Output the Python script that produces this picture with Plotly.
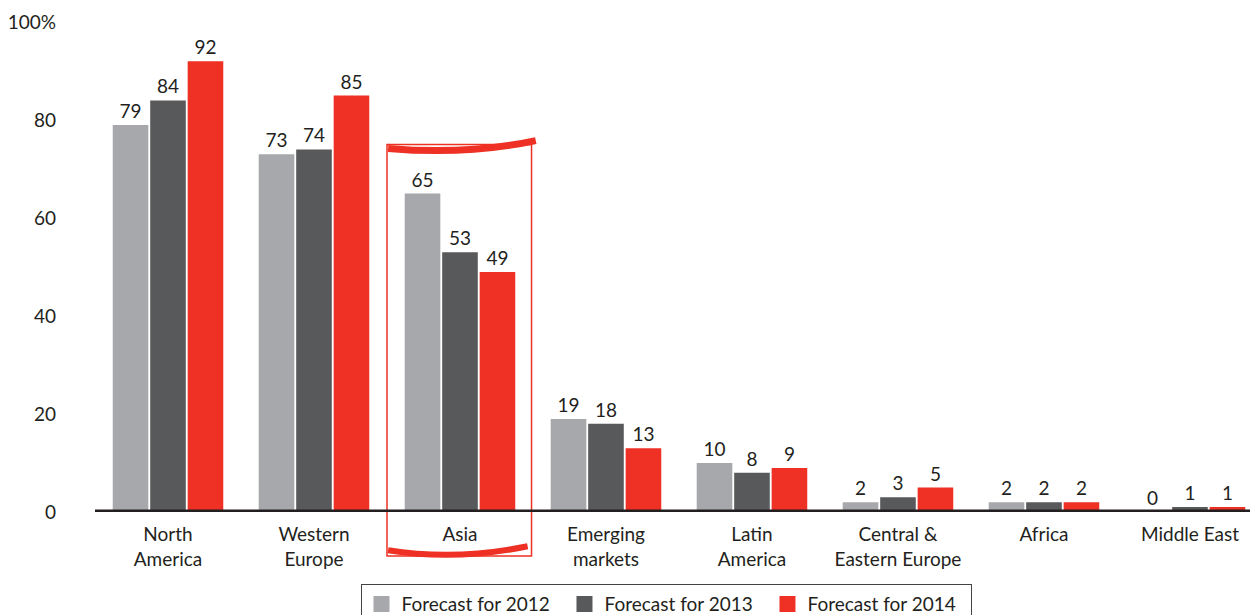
import plotly.graph_objects as go

categories = ["North<br>America", "Western<br>Europe", "Asia", "Emerging<br>markets",
              "Latin<br>America", "Central &<br>Eastern Europe", "Africa", "Middle East"]
series_names = ["Forecast for 2012", "Forecast for 2013", "Forecast for 2014"]
v2012 = [79, 73, 65, 19, 10, 2, 2, 0]
v2013 = [84, 74, 53, 18, 8, 3, 2, 1]
v2014 = [92, 85, 49, 13, 9, 5, 2, 1]
ytick_vals = [0, 20, 40, 60, 80, 100]
ytick_text = ["0", "20", "40", "60", "80", "100%"]

colors = ["#a7a8ab", "#58595b", "#ee3124"]
ink = "#231f20"
font_family = "Lato, 'Noto Sans', sans-serif"
fs = 19

fig = go.Figure()
for name, vals, col in zip(series_names, [v2012, v2013, v2014], colors):
    fig.add_trace(go.Bar(
        x=categories, y=vals, name=name, marker=dict(color=col, line=dict(width=0)),
        text=[str(v) for v in vals], textposition="outside",
        textfont=dict(size=fs, color=ink, family=font_family),
        cliponaxis=False, showlegend=False,
    ))
# legend entries with larger square swatches
for name, col in zip(series_names, colors):
    fig.add_trace(go.Scatter(
        x=[None], y=[None], mode="markers", name=name + "  ",
        marker=dict(symbol="square", size=16, color=col), showlegend=True,
    ))

# Highlight around Asia
ai = categories.index("Asia")
red = "#ee3124"
fig.add_shape(type="rect", xref="x", yref="paper", x0=ai - 0.5, x1=ai + 0.49,
              y0=-0.09, y1=0.75, line=dict(color=red, width=1.5))
fig.add_shape(type="path", xref="paper", yref="paper",
              path="M 0.252,0.742 Q 0.32,0.728 0.379,0.758", line=dict(color=red, width=7))
fig.add_shape(type="path", xref="paper", yref="paper",
              path="M 0.252,-0.078 Q 0.31,-0.1 0.372,-0.07", line=dict(color=red, width=6))

# Thick baseline
fig.add_shape(type="line", xref="paper", yref="y", x0=0, x1=1, y0=0, y1=0,
              line=dict(color=ink, width=5), layer="above")

fig.update_layout(
    width=1250, height=607,
    margin=dict(l=87, r=0, t=14, b=103, autoexpand=False),
    paper_bgcolor="white", plot_bgcolor="white",
    barmode="group", bargap=0.23, bargroupgap=0.05,
    font=dict(family=font_family, size=fs, color=ink),
    showlegend=True,
    legend=dict(orientation="h", x=(666 - 95) / 1163, xanchor="center",
                y=-0.147, yanchor="top",
                bordercolor="#444444", borderwidth=1, font=dict(size=fs, color=ink),
                itemwidth=30, tracegroupgap=0),
    xaxis=dict(range=[-0.5, 7.466], showgrid=False, showline=False, ticks="",
               tickfont=dict(size=fs, color=ink), ticklabelstandoff=9, automargin=False),
    yaxis=dict(range=[0, 100], tickvals=ytick_vals, ticktext=ytick_text,
               showgrid=False, zeroline=False, showline=False, ticks="",
               tickfont=dict(size=fs, color=ink), ticklabelstandoff=38, automargin=False),
)

fig.write_html("out.html")
